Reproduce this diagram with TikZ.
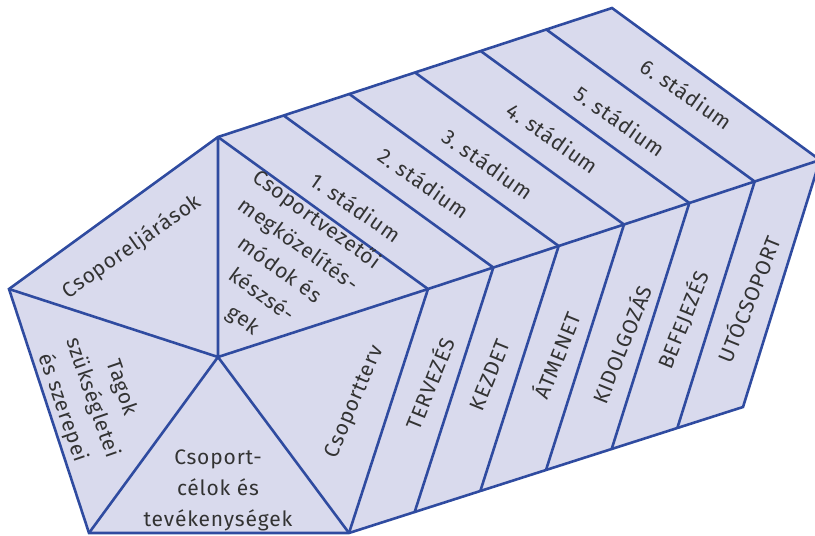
\documentclass[tikz,border=0pt]{standalone}
\usepackage{fontspec}
\setmainfont{Fira Sans}[LetterSpace=4]
\usetikzlibrary{calc}
\definecolor{edgeblue}{RGB}{47,75,160}
\definecolor{facefill}{RGB}{217,218,237}
\definecolor{inkgray}{RGB}{51,51,51}

\begin{document}
\begin{tikzpicture}[x=1pt,y=-1pt,line width=2.6pt,
  rib/.style={draw=edgeblue},
  lbl/.style={text=inkgray,align=center,inner sep=0pt,font=\fontsize{21}{31}\selectfont}]
\useasboundingbox (0,0) rectangle (815,536);
% ---------- corners ----------
\coordinate (O) at (218,357);
\coordinate (A) at (218,137);
\coordinate (B) at (9,289);
\coordinate (C) at (89,533);
\coordinate (D) at (349,533);
\coordinate (E) at (428,289);
\coordinate (Afar) at (612,8);
\coordinate (Efar) at (820,160);
\coordinate (Dfar) at (743,407);
% ---------- body ----------
\draw[rib,fill=facefill] (A) -- (B) -- (C) -- (D) -- (Dfar) -- (Efar) -- (Afar) -- cycle;
% pentagon spokes
\draw[rib] (O) -- (A) (O) -- (B) (O) -- (C) (O) -- (D) (O) -- (E);
% prism edges
\draw[rib] (A) -- (E) -- (D) (E) -- (Efar);
% stage dividers
\foreach \k in {1,...,5}
  \draw[rib] ($(A)!\k/6!(Afar)$) -- ($(E)!\k/6!(Efar)$) -- ($(D)!\k/6!(Dfar)$);
% ---------- pentagon texts ----------
\node[lbl,rotate=35] (procs) at (132,247) {Csoporeljárások};
\node[lbl,rotate=-71] (members) at (92,398) {Tagok\\szükségletei\\és szerepei};
\node[lbl] (goals) at (218,490) {Csoport-\\célok és\\tevékenységek};
\node[lbl,rotate=67] (plan) at (355,402) {Csoportterv};
\node[lbl,rotate=-36] (leader) at (280,270)
  {Csoportvezetői\\megközelítés-\\módok és\\készsé-\\gek};
% ---------- stages ----------
\foreach \k/\x/\y in {1/356/207,2/424/183,3/488/164,4/553/138,5/620/121,6/687/94}
  \node[lbl,rotate=-35] (stage\k) at (\x,\y) {\k.~stádium};
\foreach \k/\x/\y/\txt in {1/429/383/TERVEZÉS,2/490/375/KEZDET,3/556/355/ÁTMENET,
    4/621/344/KIDOLGOZÁS,5/683/320/BEFEJEZÉS,6/748/299/UTÓCSOPORT}
  \node[lbl,rotate=68] (phase\k) at (\x,\y) {\txt};
\end{tikzpicture}
\end{document}
